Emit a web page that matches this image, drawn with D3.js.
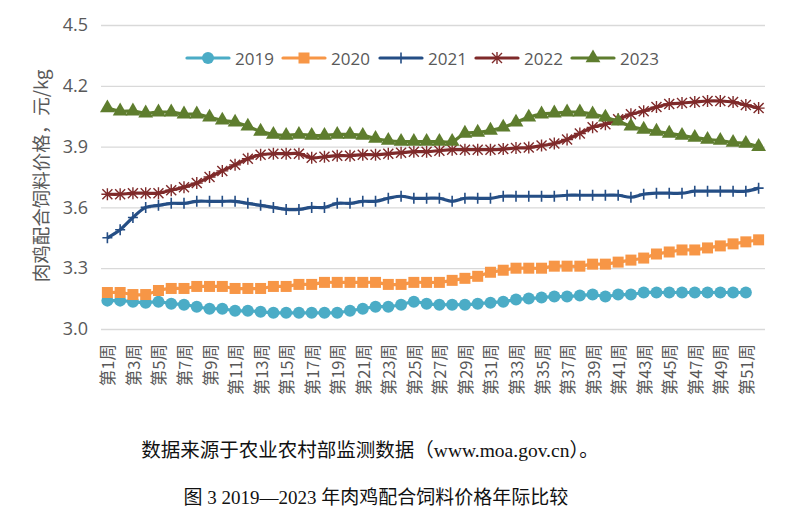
<!DOCTYPE html>
<html>
<head>
<meta charset="utf-8">
<script src="https://cdn.jsdelivr.net/npm/d3@7"></script>
<style>
  body { margin: 0; background: #fff; }
  svg { display: block; }
</style>
</head>
<body>
<svg id="chart"></svg>
<script>
// --- data ---
const weeks = d3.range(1, 53);
const weekTicks = d3.range(1, 53, 2);
const yTicks = [3.0, 3.3, 3.6, 3.9, 4.2, 4.5];
const years = ["2019", "2020", "2021", "2022", "2023"];

const v2019 = [3.14, 3.14, 3.135, 3.13, 3.135, 3.125, 3.12, 3.11, 3.10, 3.10, 3.09, 3.09, 3.085,
  3.08, 3.08, 3.08, 3.08, 3.08, 3.08, 3.09, 3.10, 3.11, 3.11, 3.12, 3.135, 3.125,
  3.12, 3.12, 3.12, 3.125, 3.13, 3.135, 3.145, 3.15, 3.155, 3.16, 3.16, 3.165, 3.17,
  3.16, 3.17, 3.17, 3.18, 3.18, 3.18, 3.18, 3.18, 3.18, 3.18, 3.18, 3.18];
const v2020 = [3.18, 3.18, 3.17, 3.17, 3.19, 3.20, 3.20, 3.21, 3.21, 3.21, 3.20, 3.20, 3.20,
  3.21, 3.21, 3.22, 3.22, 3.23, 3.23, 3.23, 3.23, 3.23, 3.22, 3.22, 3.23, 3.23,
  3.23, 3.24, 3.25, 3.26, 3.28, 3.29, 3.30, 3.30, 3.30, 3.31, 3.31, 3.31, 3.32,
  3.32, 3.33, 3.34, 3.35, 3.37, 3.38, 3.39, 3.39, 3.40, 3.41, 3.42, 3.43, 3.44];
const v2021 = [3.45, 3.49, 3.55, 3.60, 3.61, 3.62, 3.62, 3.63, 3.63, 3.63, 3.63, 3.62, 3.61,
  3.60, 3.59, 3.59, 3.60, 3.60, 3.62, 3.62, 3.63, 3.63, 3.645, 3.655, 3.645, 3.645,
  3.645, 3.63, 3.645, 3.645, 3.645, 3.655, 3.655, 3.655, 3.655, 3.655, 3.66, 3.66, 3.66,
  3.66, 3.66, 3.65, 3.665, 3.67, 3.67, 3.67, 3.68, 3.68, 3.68, 3.68, 3.68, 3.695];
const v2022 = [3.665, 3.665, 3.67, 3.67, 3.67, 3.685, 3.70, 3.72, 3.75, 3.78, 3.81, 3.84, 3.86,
  3.865, 3.865, 3.865, 3.845, 3.85, 3.855, 3.855, 3.86, 3.86, 3.865, 3.87, 3.875, 3.875,
  3.88, 3.885, 3.885, 3.885, 3.885, 3.888, 3.893, 3.895, 3.905, 3.915, 3.935, 3.965, 3.995,
  4.01, 4.035, 4.06, 4.075, 4.095, 4.11, 4.115, 4.12, 4.125, 4.125, 4.12, 4.105, 4.09];
const v2023 = [4.09, 4.075, 4.075, 4.065, 4.07, 4.07, 4.06, 4.06, 4.045, 4.03, 4.02, 4.00, 3.975,
  3.96, 3.955, 3.96, 3.955, 3.955, 3.96, 3.96, 3.955, 3.94, 3.93, 3.925, 3.925, 3.925,
  3.925, 3.925, 3.965, 3.97, 3.98, 3.995, 4.02, 4.045, 4.06, 4.065, 4.07, 4.07, 4.06,
  4.045, 4.025, 4.00, 3.985, 3.975, 3.965, 3.955, 3.945, 3.935, 3.93, 3.92, 3.915, 3.90];

const values = [v2019, v2020, v2021, v2022, v2023];
const colors = ["#4bacc6", "#f79646", "#254e85", "#7f2a2a", "#5e7d2e"];
const markers = ["circle", "square", "plus", "star", "triangle"];

// --- setup ---
const width = 800, height = 515;
const svg = d3.select("#chart").attr("width", width).attr("height", height);

const x = d3.scaleBand().domain(weeks).range([101, 765]);
const cx = d => x(d) + x.bandwidth() / 2;
const y = d3.scaleLinear().domain([3.0, 4.5]).range([329, 25]);

const grey = "#595959";
const sans = "'Open Sans', 'Noto Sans CJK SC', sans-serif";

// y axis + grid
const yAxis = svg.append("g")
  .attr("transform", "translate(101,0)")
  .call(d3.axisLeft(y).tickValues(yTicks).tickFormat(d3.format(".1f"))
    .tickSize(-(765 - 101)).tickPadding(13));
yAxis.select(".domain").remove();
yAxis.selectAll("line").attr("stroke", "#d9d9d9").attr("stroke-width", 1.3);
yAxis.selectAll("text").attr("fill", grey).style("font-family", sans).style("font-size", "18px");

// x axis labels
const xAxis = svg.append("g")
  .attr("transform", "translate(0,329)")
  .call(d3.axisBottom(x).tickValues(weekTicks).tickFormat(d => "第" + d + "周").tickSize(0));
xAxis.select(".domain").remove();
xAxis.selectAll("text")
  .attr("fill", grey)
  .style("font-family", "'Noto Sans CJK SC', sans-serif")
  .style("font-size", "16.5px")
  .attr("text-anchor", "end")
  .attr("dominant-baseline", "central")
  .attr("dy", null)
  .attr("y", 0)
  .attr("transform", "translate(0,15) rotate(-90)");

// y title
svg.append("text")
  .attr("transform", "translate(40,176) rotate(-90)")
  .attr("text-anchor", "middle")
  .attr("dominant-baseline", "central")
  .attr("fill", grey)
  .style("font-family", "'Noto Sans CJK SC', sans-serif")
  .style("font-size", "18.5px")
  .text("肉鸡配合饲料价格，元/kg");

// markers
function drawMarker(sel, type, color) {
  if (type === "circle") {
    sel.append("circle").attr("r", 6).attr("fill", color);
  } else if (type === "square") {
    sel.append("rect").attr("x", -5.5).attr("y", -5.5).attr("width", 11).attr("height", 11).attr("fill", color);
  } else if (type === "triangle") {
    sel.append("path").attr("d", d3.symbol(d3.symbolTriangle, 95)()).attr("fill", color);
  } else if (type === "plus") {
    sel.append("path").attr("d", "M-5,0H5M0,-5.5V5.5").attr("stroke", color).attr("stroke-width", 1.6);
  } else if (type === "star") {
    sel.append("path").attr("d", "M-5,-5L5,5M-5,5L5,-5M0,-6V6M-6,0H6")
      .attr("stroke", color).attr("stroke-width", 1.4);
  }
}

const line = d3.line()
  .x((d, i) => cx(weeks[i]))
  .y(d => y(d))
  .curve(d3.curveCatmullRom.alpha(0.5));

years.forEach((yr, k) => {
  const g = svg.append("g");
  g.append("path")
    .datum(values[k])
    .attr("fill", "none")
    .attr("stroke", colors[k])
    .attr("stroke-width", 3.2)
    .attr("stroke-linejoin", "round")
    .attr("d", line);
  g.selectAll("g.m")
    .data(values[k])
    .join("g")
    .attr("class", "m")
    .attr("transform", (d, i) => `translate(${cx(weeks[i])},${y(d)})`)
    .each(function () { drawMarker(d3.select(this), markers[k], colors[k]); });
});

// legend
const legendX = [187, 283, 380, 476, 572];
const legend = svg.append("g").attr("transform", "translate(0,58)");
years.forEach((yr, k) => {
  const item = legend.append("g").attr("transform", `translate(${legendX[k]},0)`);
  item.append("line").attr("x1", 0).attr("x2", 42)
    .attr("stroke", colors[k]).attr("stroke-width", 3.2).attr("stroke-linecap", "round");
  drawMarker(item.append("g").attr("transform", "translate(21,0)"), markers[k], colors[k]);
  item.append("text")
    .attr("x", 48)
    .attr("dominant-baseline", "central")
    .attr("fill", grey)
    .style("font-family", sans)
    .style("font-size", "17px")
    .text(yr);
});

// notes under the chart
const serif = "'Liberation Serif', 'Noto Sans CJK SC', serif";
svg.append("text")
  .attr("x", 370).attr("y", 450)
  .attr("text-anchor", "middle").attr("dominant-baseline", "central")
  .attr("fill", "#111")
  .style("font-family", serif).style("font-size", "19.5px")
  .text("数据来源于农业农村部监测数据（www.moa.gov.cn）。");
svg.append("text")
  .attr("x", 376).attr("y", 497)
  .attr("text-anchor", "middle").attr("dominant-baseline", "central")
  .attr("fill", "#111")
  .style("font-family", serif).style("font-size", "19px")
  .text("图 3 2019—2023 年肉鸡配合饲料价格年际比较");
</script>
</body>
</html>
